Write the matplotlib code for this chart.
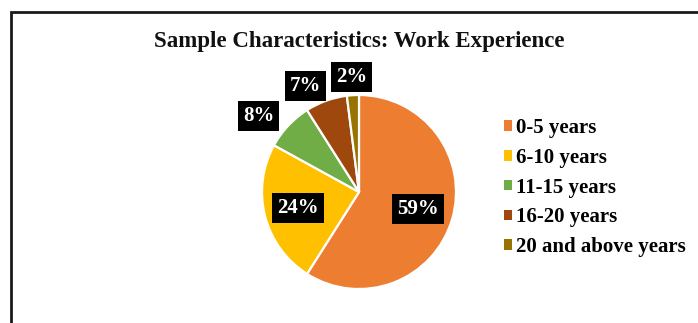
import numpy as np
import matplotlib
matplotlib.use("Agg")
import matplotlib.pyplot as plt
from matplotlib.patches import Rectangle

# work experience breakdown (percent of sample)
categories = ["0-5 years", "6-10 years", "11-15 years", "16-20 years", "20 and above years"]
shares = [59, 24, 8, 7, 2]
colors = ["#ED7D31", "#FFC000", "#70AD47", "#9E480E", "#997300"]

# where each percentage box sits: distance from centre and small angle nudge (deg)
label_dist = [0.63, 0.65, 1.30, 1.22, 1.19]
label_nudge = [0, 0, 6, 7, 0]

plt.rcParams["font.family"] = ["Liberation Serif", "DejaVu Serif"]

W, H = 698, 323
fig = plt.figure(figsize=(W / 100, H / 100), dpi=100)
fig.patch.set_facecolor("white")

# chart border
fig.add_artist(Rectangle((10.5 / W, -0.1), 1.2, (H - 12) / H + 0.1,
                         transform=fig.transFigure, fill=False,
                         edgecolor="#1a1a1a", linewidth=2))

cx, cy, r = 359, H - 192, 97
ax = fig.add_axes([(cx - r) / W, (cy - r) / H, 2 * r / W, 2 * r / H])
wedges, _ = ax.pie(shares, colors=colors, startangle=90, counterclock=False,
                   radius=1, wedgeprops=dict(edgecolor="white", linewidth=1.6))
ax.set_xlim(-1, 1)
ax.set_ylim(-1, 1)
ax.set_aspect("equal")
ax.axis("off")

for w, v, d, n in zip(wedges, shares, label_dist, label_nudge):
    ang = np.deg2rad((w.theta1 + w.theta2) / 2 + n)
    ax.text(d * np.cos(ang), d * np.sin(ang), f"{v}%", ha="center", va="center",
            color="white", fontsize=15, fontweight="bold", clip_on=False,
            bbox=dict(boxstyle="square,pad=0.24", facecolor="black", edgecolor="none"))

fig.text(cx / W, (H - 41) / H, "Sample Characteristics: Work Experience",
         ha="center", va="center", fontsize=16.5, fontweight="bold", color="#111111")

leg = fig.legend(wedges, categories, loc="upper left",
                 bbox_to_anchor=(504 / W, (H - 118) / H), frameon=False,
                 handlelength=0.4, handleheight=0.4, handletextpad=0.2,
                 labelspacing=0.47, borderaxespad=0, borderpad=0,
                 prop=dict(family="Liberation Serif", weight="bold", size=15))
for h in leg.legend_handles:
    h.set_edgecolor("none")

fig.savefig("out.png", dpi=100, facecolor="white")
